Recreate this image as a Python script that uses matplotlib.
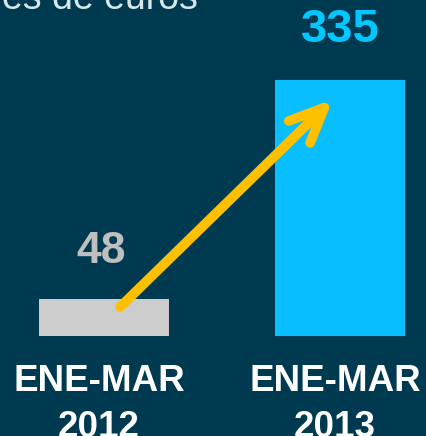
import numpy as np
import matplotlib.pyplot as plt

# ventas trimestrales, millones de euros
periods = ["ENE-MAR\n2012", "ENE-MAR\n2013"]
values = [48, 335]
bar_colors = ["#CCCCCC", "#09BEFF"]
value_colors = ["#BFBFBF", "#00C8FF"]
unit_title = "Millones de euros"

bg = "#003A50"
plt.rcParams['font.family'] = ['Liberation Sans', 'DejaVu Sans']

fig = plt.figure(figsize=(4.26, 4.36), dpi=100, facecolor=bg)
ax = fig.add_axes([0, 100 / 436, 1, 336 / 436])
ax.set_facecolor(bg)

x = np.arange(len(values))
ax.bar(x, values, width=0.551, color=bar_colors, edgecolor="none", zorder=2)
ax.set_xlim(-0.4407, 1.3644)
ax.set_ylim(0, 439.7)

for xi, v, c in zip(x, values, value_colors):
  ax.annotate(str(v), (xi, v), xytext=(-2 if v < 100 else 0, 20),
              textcoords="offset points",
              ha="center", va="bottom", fontsize=32 if v < 100 else 34,
              fontweight="bold", color=c)

# etiquetas de periodo bajo las barras
for xi, lab in zip(x, periods):
  ax.annotate(lab, (xi, 0), xytext=(-3.5, -20.5), textcoords="offset points",
              ha="center", va="top", multialignment="center",
              fontsize=26.5, fontweight="bold", color="white",
              linespacing=1.38, annotation_clip=False)

ax.set_xticks([])
ax.set_yticks([])
for s in ax.spines.values():
  s.set_visible(False)

# flecha de crecimiento
ax.annotate("", xy=(0.97, values[1] * 0.925), xytext=(0.068, values[0] * 0.79),
            arrowprops=dict(arrowstyle="->,head_length=1.25,head_width=0.55",
                            mutation_scale=20,
                            color="#FFC000", lw=7, shrinkA=0, shrinkB=0,
                            joinstyle="round", capstyle="round"),
            zorder=3)

fig.text(198 / 426, 1 - 9 / 436, unit_title, ha="right", va="baseline",
         fontsize=27, color="#D6E6EC")

fig.savefig("out.png", dpi=100, facecolor=bg)
